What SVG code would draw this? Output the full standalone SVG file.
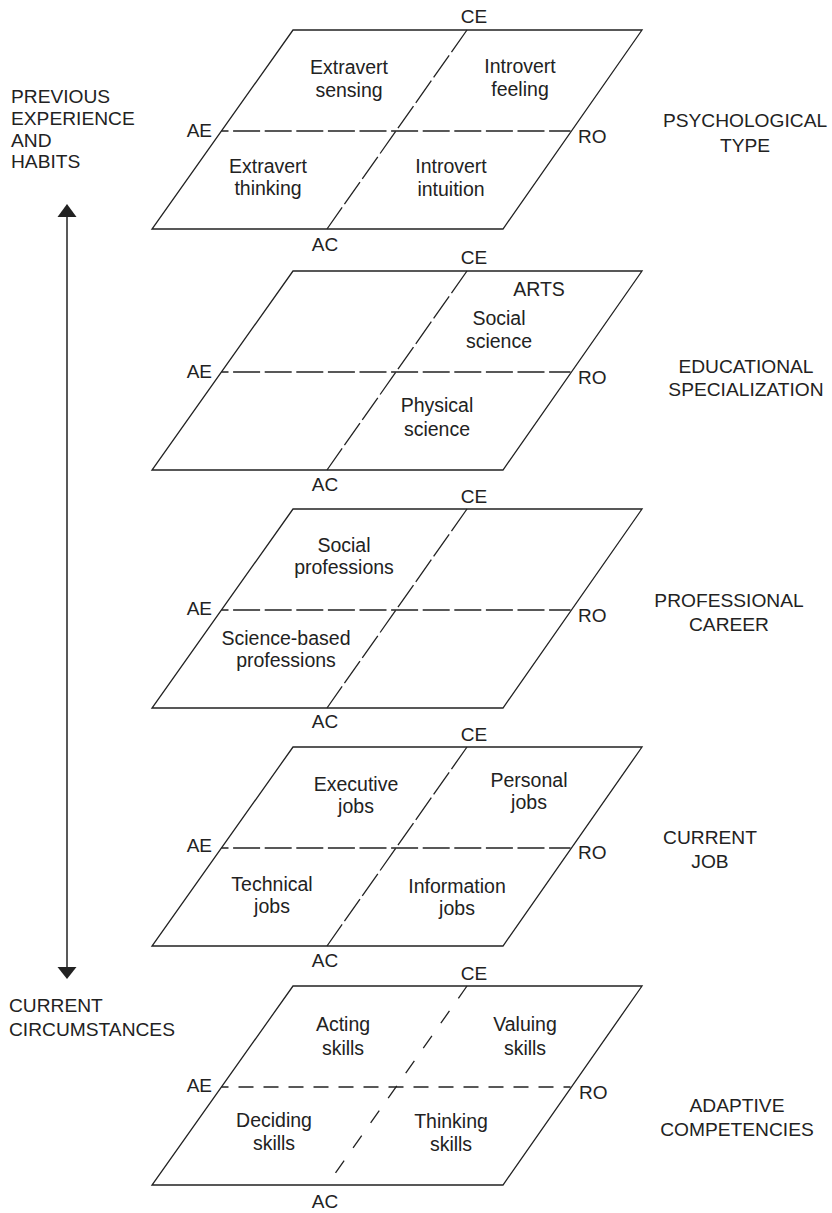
<svg xmlns="http://www.w3.org/2000/svg" width="832" height="1213" viewBox="0 0 832 1213">
  <defs>
    <style>
      text { font-family: "Liberation Sans", Arial, Helvetica, sans-serif; fill: #222; }
      .t { font-size: 19.5px; text-anchor: middle; }
      .cap { font-size: 19.2px; text-anchor: middle; }
      .side { font-size: 19.2px; }
      .ax { font-size: 19px; }
      .mid { text-anchor: middle; }
      .end { text-anchor: end; }
      .frame { fill: #fff; stroke: #222; stroke-width: 1.3; stroke-linejoin: miter; }
      .hl { stroke: #222; stroke-width: 1.3; fill: none; stroke-dasharray: 27 4.6; stroke-dashoffset: 20; }
      .dl { stroke: #222; stroke-width: 1.3; fill: none; stroke-dasharray: 27 4; }
      .hl5 { stroke: #222; stroke-width: 1.3; fill: none; stroke-dasharray: 15 10; stroke-dashoffset: 8; }
      .dl5 { stroke: #222; stroke-width: 1.3; fill: none; stroke-dasharray: 15 15.5; }
      .arrowline { stroke: #222; stroke-width: 1.5; fill: none; }
    </style>
  </defs>

  <rect width="832" height="1213" fill="#fff"/>

  <!-- side captions on the left -->
  <g id="label-previous">
    <text class="side" x="11" y="103">PREVIOUS</text>
    <text class="side" x="11" y="125">EXPERIENCE</text>
    <text class="side" x="11" y="147">AND</text>
    <text class="side" x="11" y="168">HABITS</text>
  </g>
  <g id="label-current">
    <text class="side" x="9" y="1012">CURRENT</text>
    <text class="side" x="9" y="1036">CIRCUMSTANCES</text>
  </g>

  <!-- two-headed time axis -->
  <g id="connectors">
    <line class="arrowline" x1="67" y1="217" x2="67" y2="967"/>
    <path d="M67,204 L76.5,217 L57.5,217 Z" fill="#222"/>
    <path d="M67,979 L76.5,967 L57.5,967 Z" fill="#222"/>
  </g>

  <!-- layer 1 -->
  <g id="psychological-type" transform="translate(0,30)">
    <polygon class="frame" points="293,0 642,0 503,199 152,199"/>
    <line class="hl" x1="221.5" y1="101" x2="570.5" y2="101"/>
    <line class="dl" x1="467" y1="0" x2="327" y2="199"/>
    <text class="ax mid" x="474" y="-7">CE</text>
    <text class="ax end" x="212" y="107">AE</text>
    <text class="ax" x="578" y="113">RO</text>
    <text class="ax mid" x="325" y="221">AC</text>
    <text class="t" x="349" y="44">Extravert</text>
    <text class="t" x="349" y="67">sensing</text>
    <text class="t" x="520" y="43">Introvert</text>
    <text class="t" x="520" y="66">feeling</text>
    <text class="t" x="268" y="143">Extravert</text>
    <text class="t" x="268" y="165">thinking</text>
    <text class="t" x="451" y="143">Introvert</text>
    <text class="t" x="451" y="166">intuition</text>
  </g>
  <g id="caption-psychological">
    <text class="cap" x="745" y="127">PSYCHOLOGICAL</text>
    <text class="cap" x="745" y="152">TYPE</text>
  </g>

  <!-- layer 2 -->
  <g id="educational-specialization" transform="translate(0,271)">
    <polygon class="frame" points="293,0 642,0 503,199 152,199"/>
    <line class="hl" x1="221.5" y1="101" x2="570.5" y2="101"/>
    <line class="dl" x1="467" y1="0" x2="327" y2="199"/>
    <text class="ax mid" x="474" y="-7">CE</text>
    <text class="ax end" x="212" y="107">AE</text>
    <text class="ax" x="578" y="113">RO</text>
    <text class="ax mid" x="325" y="220">AC</text>
    <text class="t" x="539" y="25">ARTS</text>
    <text class="t" x="499" y="54">Social</text>
    <text class="t" x="499" y="77">science</text>
    <text class="t" x="437" y="141">Physical</text>
    <text class="t" x="437" y="165">science</text>
  </g>
  <g id="caption-educational">
    <text class="cap" x="746" y="373">EDUCATIONAL</text>
    <text class="cap" x="746" y="396">SPECIALIZATION</text>
  </g>

  <!-- layer 3 -->
  <g id="professional-career" transform="translate(0,509)">
    <polygon class="frame" points="293,0 642,0 503,199 152,199"/>
    <line class="hl" x1="221.5" y1="101" x2="570.5" y2="101"/>
    <line class="dl" x1="467" y1="0" x2="327" y2="199"/>
    <text class="ax mid" x="474" y="-6">CE</text>
    <text class="ax end" x="212" y="106">AE</text>
    <text class="ax" x="578" y="113">RO</text>
    <text class="ax mid" x="325" y="219">AC</text>
    <text class="t" x="344" y="43">Social</text>
    <text class="t" x="344" y="65">professions</text>
    <text class="t" x="286" y="136">Science-based</text>
    <text class="t" x="286" y="158">professions</text>
  </g>
  <g id="caption-professional">
    <text class="cap" x="729" y="607">PROFESSIONAL</text>
    <text class="cap" x="729" y="631">CAREER</text>
  </g>

  <!-- layer 4 -->
  <g id="current-job" transform="translate(0,747)">
    <polygon class="frame" points="293,0 642,0 503,199 152,199"/>
    <line class="hl" x1="221.5" y1="101" x2="570.5" y2="101"/>
    <line class="dl" x1="467" y1="0" x2="327" y2="199"/>
    <text class="ax mid" x="474" y="-6">CE</text>
    <text class="ax end" x="212" y="105">AE</text>
    <text class="ax" x="578" y="112">RO</text>
    <text class="ax mid" x="325" y="220">AC</text>
    <text class="t" x="356" y="44">Executive</text>
    <text class="t" x="356" y="66">jobs</text>
    <text class="t" x="529" y="40">Personal</text>
    <text class="t" x="529" y="62">jobs</text>
    <text class="t" x="272" y="144">Technical</text>
    <text class="t" x="272" y="166">jobs</text>
    <text class="t" x="457" y="146">Information</text>
    <text class="t" x="457" y="168">jobs</text>
  </g>
  <g id="caption-current-job">
    <text class="cap" x="710" y="844">CURRENT</text>
    <text class="cap" x="710" y="868">JOB</text>
  </g>

  <!-- layer 5 -->
  <g id="adaptive-competencies" transform="translate(0,986)">
    <polygon class="frame" points="293,0 642,0 503,199 152,199"/>
    <line class="hl5" x1="221.5" y1="101" x2="570.5" y2="101"/>
    <line class="dl5" x1="467" y1="0" x2="327" y2="199"/>
    <text class="ax mid" x="474" y="-6">CE</text>
    <text class="ax end" x="212" y="106">AE</text>
    <text class="ax" x="579" y="113">RO</text>
    <text class="ax mid" x="325" y="222">AC</text>
    <text class="t" x="343" y="45">Acting</text>
    <text class="t" x="343" y="69">skills</text>
    <text class="t" x="525" y="45">Valuing</text>
    <text class="t" x="525" y="69">skills</text>
    <text class="t" x="274" y="141">Deciding</text>
    <text class="t" x="274" y="164">skills</text>
    <text class="t" x="451" y="142">Thinking</text>
    <text class="t" x="451" y="165">skills</text>
  </g>
  <g id="caption-adaptive">
    <text class="cap" x="737" y="1112">ADAPTIVE</text>
    <text class="cap" x="737" y="1136">COMPETENCIES</text>
  </g>
</svg>
